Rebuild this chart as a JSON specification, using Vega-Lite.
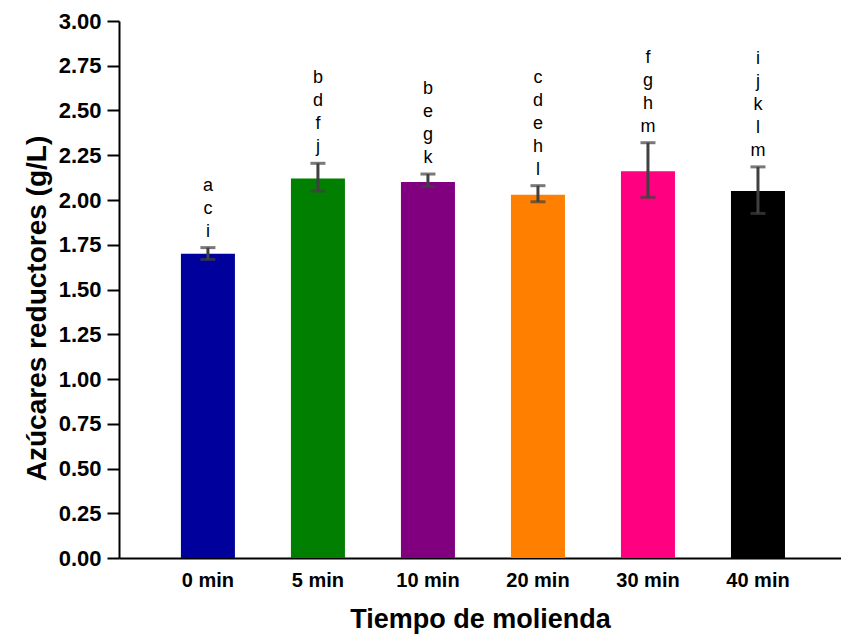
{
  "$schema": "https://vega.github.io/schema/vega-lite/v6.json",
  "width": 722,
  "height": 537,
  "autosize": "none",
  "padding": {"left": 119, "top": 21, "right": 0, "bottom": 81},
  "background": "white",
  "config": {
    "view": {"stroke": null},
    "font": "Liberation Sans",
    "text": {"fontSize": 18, "color": "black", "baseline": "alphabetic", "align": "center"}
  },
  "datasets": {
    "barras": [
      {"tiempo": "0 min", "media": 1.70, "inf": 1.668, "sup": 1.734},
      {"tiempo": "5 min", "media": 2.12, "inf": 2.050, "sup": 2.205},
      {"tiempo": "10 min", "media": 2.10, "inf": 2.075, "sup": 2.145},
      {"tiempo": "20 min", "media": 2.03, "inf": 1.990, "sup": 2.080},
      {"tiempo": "30 min", "media": 2.16, "inf": 2.015, "sup": 2.320},
      {"tiempo": "40 min", "media": 2.05, "inf": 1.925, "sup": 2.185}
    ],
    "letras": [
      {"tiempo": "0 min", "letra": "a", "nivel": 2},
      {"tiempo": "0 min", "letra": "c", "nivel": 1},
      {"tiempo": "0 min", "letra": "i", "nivel": 0},
      {"tiempo": "5 min", "letra": "b", "nivel": 3},
      {"tiempo": "5 min", "letra": "d", "nivel": 2},
      {"tiempo": "5 min", "letra": "f", "nivel": 1},
      {"tiempo": "5 min", "letra": "j", "nivel": 0},
      {"tiempo": "10 min", "letra": "b", "nivel": 3},
      {"tiempo": "10 min", "letra": "e", "nivel": 2},
      {"tiempo": "10 min", "letra": "g", "nivel": 1},
      {"tiempo": "10 min", "letra": "k", "nivel": 0},
      {"tiempo": "20 min", "letra": "c", "nivel": 4},
      {"tiempo": "20 min", "letra": "d", "nivel": 3},
      {"tiempo": "20 min", "letra": "e", "nivel": 2},
      {"tiempo": "20 min", "letra": "h", "nivel": 1},
      {"tiempo": "20 min", "letra": "l", "nivel": 0},
      {"tiempo": "30 min", "letra": "f", "nivel": 3},
      {"tiempo": "30 min", "letra": "g", "nivel": 2},
      {"tiempo": "30 min", "letra": "h", "nivel": 1},
      {"tiempo": "30 min", "letra": "m", "nivel": 0},
      {"tiempo": "40 min", "letra": "i", "nivel": 4},
      {"tiempo": "40 min", "letra": "j", "nivel": 3},
      {"tiempo": "40 min", "letra": "k", "nivel": 2},
      {"tiempo": "40 min", "letra": "l", "nivel": 1},
      {"tiempo": "40 min", "letra": "m", "nivel": 0}
    ]
  },
  "encoding": {
    "x": {
      "field": "tiempo",
      "type": "nominal",
      "scale": {
        "domain": ["0 min", "5 min", "10 min", "20 min", "30 min", "40 min"],
        "paddingInner": 0.509,
        "paddingOuter": 0.536,
        "align": 0.525
      },
      "axis": {
        "title": "Tiempo de molienda",
        "titleFontSize": 27,
        "titleFontWeight": "bold",
        "titleColor": "black",
        "titlePadding": 16,
        "labelAngle": 0,
        "labelFontSize": 20,
        "labelFontWeight": "bold",
        "labelColor": "black",
        "labelPadding": 12,
        "ticks": false,
        "domainColor": "black",
        "domainWidth": 2
      }
    }
  },
  "layer": [
    {
      "data": {"name": "barras"},
      "mark": {"type": "bar"},
      "encoding": {
        "y": {
          "field": "media",
          "type": "quantitative",
          "scale": {"domain": [0, 3], "nice": false, "zero": true},
          "axis": {
            "title": "Azúcares reductores (g/L)",
            "titleFontSize": 28,
            "titleFontWeight": "bold",
            "titleColor": "black",
            "titleBaseline": "alphabetic",
            "titleX": -74,
            "titleY": 287,
            "values": [0, 0.25, 0.5, 0.75, 1, 1.25, 1.5, 1.75, 2, 2.25, 2.5, 2.75, 3],
            "format": ".2f",
            "labelFontSize": 22,
            "labelFontWeight": "bold",
            "labelColor": "black",
            "labelPadding": 6,
            "tickSize": 12,
            "tickWidth": 2,
            "tickColor": "black",
            "domainColor": "black",
            "domainWidth": 2,
            "grid": false
          }
        },
        "color": {
          "field": "tiempo",
          "type": "nominal",
          "scale": {
            "domain": ["0 min", "5 min", "10 min", "20 min", "30 min", "40 min"],
            "range": ["#00009c", "#007f00", "#800080", "#ff8000", "#ff0080", "#000000"]
          },
          "legend": null
        }
      }
    },
    {
      "data": {"name": "barras"},
      "mark": {"type": "rule", "color": "#404040", "strokeWidth": 3},
      "encoding": {
        "y": {"field": "inf", "type": "quantitative"},
        "y2": {"field": "sup"}
      }
    },
    {
      "data": {"name": "barras"},
      "mark": {"type": "tick", "color": "#404040", "size": 15, "thickness": 3, "orient": "horizontal"},
      "encoding": {
        "y": {"field": "inf", "type": "quantitative"}
      }
    },
    {
      "data": {"name": "barras"},
      "mark": {"type": "tick", "color": "#404040", "size": 15, "thickness": 3, "orient": "horizontal"},
      "encoding": {
        "y": {"field": "sup", "type": "quantitative"}
      }
    },
    {
      "data": {"name": "letras"},
      "transform": [
        {"lookup": "tiempo", "from": {"data": {"name": "barras"}, "key": "tiempo", "fields": ["sup"]}}
      ],
      "encoding": {
        "y": {"field": "sup", "type": "quantitative"},
        "text": {"field": "letra"}
      },
      "layer": [
        {"transform": [{"filter": "datum.nivel == 0"}], "mark": {"type": "text", "dy": -11}},
        {"transform": [{"filter": "datum.nivel == 1"}], "mark": {"type": "text", "dy": -34}},
        {"transform": [{"filter": "datum.nivel == 2"}], "mark": {"type": "text", "dy": -57}},
        {"transform": [{"filter": "datum.nivel == 3"}], "mark": {"type": "text", "dy": -80}},
        {"transform": [{"filter": "datum.nivel == 4"}], "mark": {"type": "text", "dy": -103}}
      ]
    }
  ]
}
